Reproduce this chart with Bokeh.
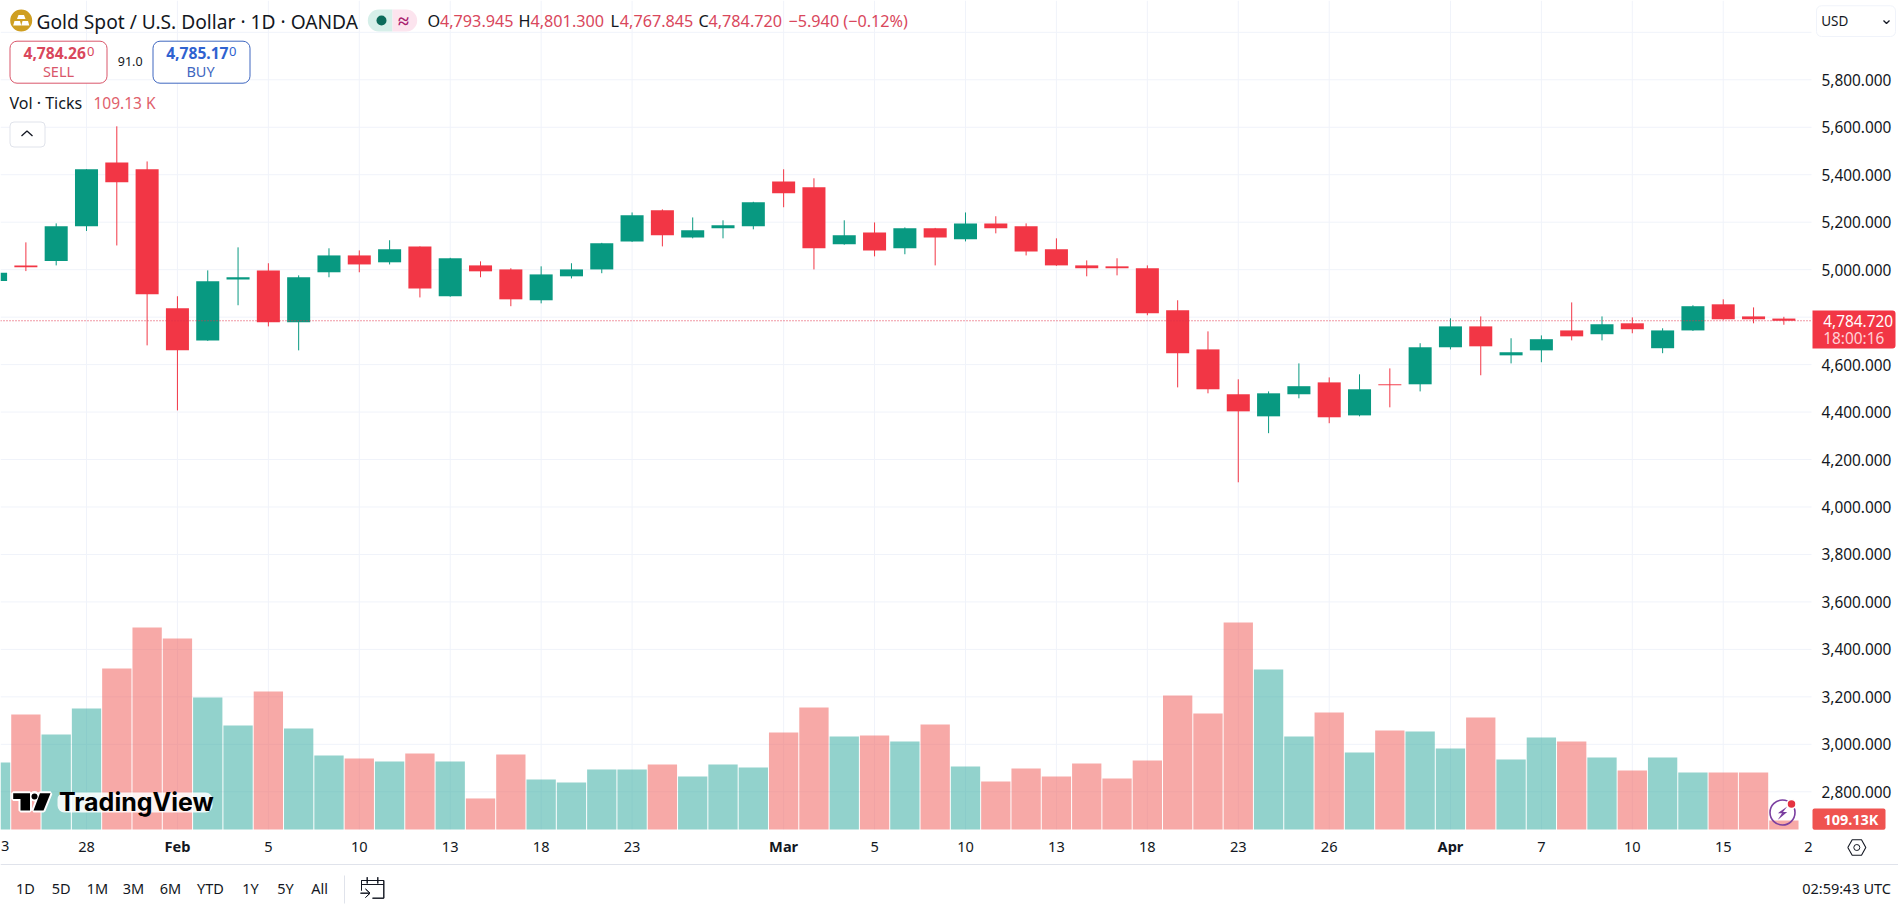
from bokeh.plotting import figure
from bokeh.models import (Range1d, FixedTicker, NumeralTickFormatter, Label,
                          BoxAnnotation, PolyAnnotation, ColumnDataSource)
from bokeh.embed import file_html
from bokeh.resources import INLINE

# ---------- data ----------
first_index = -1
opens = [4952,5018,5037,5183,5452,5423,4837,4702,4959,4997,4778,4989,5060,5031,5098,4888,5018,5001,4871,4972,5001,
         5119,5250,5136,5174,5183,5372,5347,5107,5157,5090,5174,5128,5195,5183,5086,5018,5014,5006,4829,4664,4475,
         4382,4475,4525,4386,4517,4517,4673,4761,4639,4660,4744,4728,4774,4669,4744,4854,4803,4793.945]
closes = [4987,5010,5183,5423,5368,4896,4660,4951,4968,4778,4968,5060,5022,5086,4921,5048,4993,4875,4980,5001,5111,
          5229,5145,5166,5187,5284,5322,5090,5145,5081,5174,5136,5195,5174,5077,5018,5006,5006,4816,4648,4496,4403,
          4479,4509,4378,4496,4513,4673,4761,4677,4652,4707,4719,4770,4749,4744,4846,4791,4791,4784.72]
highs = [4990,5115,5195,5423,5604,5456,4888,4997,5094,5027,4976,5090,5081,5124,5098,5050,5035,5006,5014,5027,5113,
         5241,5254,5220,5208,5286,5423,5385,5208,5199,5178,5176,5241,5225,5195,5132,5039,5048,5018,4871,4740,4538,
         4487,4605,4546,4559,4584,4690,4795,4803,4711,4723,4862,4803,4799,4753,4850,4875,4841,4801.3]
lows = [4950,4994,5018,5163,5102,4681,4407,4700,4850,4761,4660,4968,4989,5022,4883,4886,4968,4846,4858,4963,4985,
        5117,5098,5132,5132,5170,5263,5001,5105,5056,5065,5018,5119,5153,5060,5016,4972,4976,4808,4504,4479,4104,
        4311,4458,4353,4382,4420,4487,4664,4555,4605,4610,4702,4702,4732,4648,4742,4789,4774,4767.845]
volumes_k = [812,1394,1151,1467,1951,2448,2315,1600,1260,1673,1224,897,861,824,921,824,376,909,606,570,727,727,788,
             642,788,751,1176,1479,1127,1139,1067,1273,764,582,739,642,800,618,836,1624,1406,2509,1939,1127,1418,933,
             1200,1188,982,1357,848,1115,1067,873,715,873,691,691,691,109.13]
day_ticks = [2, 8, 11, 14, 17, 20, 28, 31, 34, 37, 40, 43, 50, 53, 56, 58.81]
day_labels = ["28", "5", "10", "13", "18", "23", "5", "10", "13", "18", "23", "26", "7", "10", "15", "2"]
month_ticks = [5, 25, 47]
month_labels = ["Feb", "Mar", "Apr"]
price_ticks = [2800, 3000, 3200, 3400, 3600, 3800, 4000, 4200, 4400, 4600, 4800, 5000, 5200, 5400, 5600, 5800, 6000]
range_buttons = ["1D", "5D", "1M", "3M", "6M", "YTD", "1Y", "5Y", "All"]

# ---------- geometry of the reference (page pixels) ----------
X0, DX = 25.38, 30.31          # page x of bar 0, px per bar
PY, PK = 79.3, 0.23733         # page y of 5800, px per price unit
PANE_R, PANE_B = 1811, 829
W, H = 1898, 911
FONT = "Noto Sans"
INK = "#131722"
RED = "#f23645"
GREEN = "#089981"
GRID = "#f0f3fa"
LVL = "annotation"


def X(px):
    return (px - X0) / DX


def Y(py):
    return 5800 - (py - PY) / PK


p = figure(width=W, height=H, output_backend="svg", toolbar_location=None,
           x_range=Range1d(X(0), X(W)), y_range=Range1d(Y(H), Y(0)),
           y_axis_location="right", background_fill_color="white", border_fill_color="white",
           min_border=0, outline_line_color=None, tools="")
p.extra_y_ranges = {"vol": Range1d((PANE_B - H) * 12.12, PANE_B * 12.12)}

# axes: fixed inside the full-page frame, so chrome around them is not clipped
xa = p.xaxis[0]
xa.ticker = FixedTicker(ticks=day_ticks)
xa.major_label_overrides = dict(zip(day_ticks, day_labels))
xa.fixed_location = Y(PANE_B)
ya = p.yaxis[0]
ya.ticker = FixedTicker(ticks=price_ticks)
ya.formatter = NumeralTickFormatter(format="0,0.000")
ya.major_label_overrides = {6000: ""}
ya.fixed_location = X(PANE_R)
for a in (xa, ya):
    a.axis_line_color = None
    a.major_tick_line_color = None
    a.minor_tick_line_color = None
    a.major_label_text_font = FONT
    a.major_label_text_color = INK
xa.major_label_text_font_size = "14.6px"
ya.major_label_text_font_size = "15.4px"
xa.major_label_standoff = 6
ya.major_label_standoff = 4
p.grid.grid_line_color = None

# pane grid, limited to the pane
grid_x = day_ticks[:-1] + month_ticks
p.segment(x0=grid_x, x1=grid_x, y0=[Y(PANE_B)] * len(grid_x), y1=[Y(0)] * len(grid_x), line_color=GRID, line_width=1)
p.segment(x0=[X(0)] * len(price_ticks), x1=[X(PANE_R)] * len(price_ticks), y0=price_ticks, y1=price_ticks,
          line_color=GRID, line_width=1)

# data
idx = [first_index + i for i in range(len(opens))]
cols = [GREEN if c >= o else RED for o, c in zip(opens, closes)]
vcols = ["#26a69a" if c >= o else "#ef5350" for o, c in zip(opens, closes)]
src = ColumnDataSource(dict(i=idx, o=opens, c=closes, h=highs, l=lows, v=volumes_k, col=cols, vcol=vcols))
p.vbar(x="i", top="v", bottom=0, width=0.967, fill_color="vcol", fill_alpha=0.5, line_color=None,
       source=src, y_range_name="vol")
p.segment(x0="i", x1="i", y0="l", y1="h", line_color="col", line_width=1, source=src)
p.vbar(x="i", top="o", bottom="c", width=0.76, fill_color="col", line_color=None, source=src)
p.segment(x0=[X(0)], x1=[X(PANE_R)], y0=[closes[-1]], y1=[closes[-1]], line_color="#e0304a", line_dash="1 2",
          line_width=1)


# ---------- chrome ----------
def box(l, t, r, b, fill="white", line=None, radius=0, lw=1, alpha=1):
    p.add_layout(BoxAnnotation(left=X(l), right=X(r), top=Y(t), bottom=Y(b), fill_color=fill, fill_alpha=alpha,
                               line_color=line, line_alpha=1, line_width=lw, border_radius=radius, level=LVL))


def poly(pts, fill=None, line=None, lw=1):
    p.add_layout(PolyAnnotation(xs=[X(a) for a, _ in pts], ys=[Y(b) for _, b in pts],
                                fill_color=fill or "white", fill_alpha=1 if fill else 0,
                                line_color=line, line_alpha=1, line_width=lw, level=LVL))


def stroke(pts, line=INK, lw=1):
    poly(list(pts) + list(reversed(pts)), None, line, lw)


def txt(px, py, s, size, color=INK, align="left", style="normal", font=FONT):
    p.add_layout(Label(x=X(px), y=Y(py), text=s, text_font=font, text_font_size=f"{size}px", text_color=color,
                       text_align=align, text_baseline="middle", text_font_style=style, level=LVL))


# month labels on the time axis, and the partial day at the left edge
for t, s in zip(month_ticks, month_labels):
    txt(X0 + DX * t, 845.5, s, 14.6, INK, "center", "bold")
txt(0.5, 845.5, "3", 14.6)

# rules
box(0, 863.5, W, 864.5, "#e0e3eb")
box(343.5, 875, 344.5, 903, "#e0e3eb")

# header
box(9.7, 9, 31.7, 31, "#cf9f22", None, 11)
poly([(18, 14.5), (23.5, 14.5), (25, 18.5), (16.5, 18.5)], "white")
poly([(14, 20.5), (19.5, 20.5), (20.8, 25), (12.7, 25)], "white")
poly([(22, 20.5), (27.5, 20.5), (28.8, 25), (20.8, 25)], "white")
txt(36, 20.5, "Gold Spot / U.S. Dollar · 1D · OANDA", 19.2)
box(367.3, 9, 392, 31, "#d6efe9", None, (11, 0, 0, 11))
box(392, 9, 416.7, 31, "#fce4ee", None, (0, 11, 11, 0))
box(376, 15, 386, 25, "#0b6b5a", None, 5)
txt(403, 20, "≈", 20, "#a8206e", "center", "bold")

HRED = "#d9475c"
HS = 16.2
txt(427, 20.5, "O", HS)
txt(439.5, 20.5, "4,793.945", HS, HRED)
txt(518, 20.5, "H", HS)
txt(530, 20.5, "4,801.300", HS, HRED)
txt(610, 20.5, "L", HS)
txt(619.3, 20.5, "4,767.845", HS, HRED)
txt(698, 20.5, "C", HS)
txt(708, 20.5, "4,784.720", HS, HRED)
txt(788, 20.5, "−5.940 (−0.12%)", HS, HRED)

# sell / buy
box(9.5, 40.7, 106.5, 82.7, "white", "#d9566a", 7)
txt(23, 52.7, "4,784.26", 15.6, "#d9475c", "left", "bold")
txt(86.5, 51, "0", 13, "#d9475c")
txt(58, 70, "SELL", 14.5, "#d9566a", "center")
txt(129.7, 60.7, "91.0", 12.5, INK, "center")
box(152.5, 40.7, 249.5, 82.7, "white", "#3f67c0", 7)
txt(165.7, 52.7, "4,785.17", 15.6, "#2f62d0", "left", "bold")
txt(228.5, 51, "0", 13, "#2f62d0")
txt(200, 70, "BUY", 14.5, "#3f67c0", "center")

# volume legend
txt(9, 102.7, "Vol · Ticks", 16)
txt(93, 102.7, "109.13 K", 15.5, "#e0606b")
box(9.5, 121.5, 44.5, 146.5, "white", "#e0e3eb", 4)
stroke([(21, 135.5), (26.5, 130.5), (32, 135.5)], INK, 1.3)

# USD box
box(1816, 5.3, 1895, 36, "white", GRID, 5)
txt(1820.7, 20.5, "USD", 13.5)
stroke([(1883, 20), (1886, 23), (1889, 20)], INK, 1.3)

# last price label
box(1812, 310, 1895, 348, RED, None, (0, 3, 3, 0))
txt(1822.7, 320, "4,784.720", 15.4, "white")
txt(1822.7, 337.7, "18:00:16", 15.4, "#ffd1d6")

# volume label
box(1812, 808, 1885, 829.3, "#ef5350", None, 2)
txt(1823, 818.7, "109.13K", 14.4, "white", "left", "bold")

# lightning badge
box(1769.5, 799.5, 1794.5, 824.5, "white", "#7b3fa0", 13, 1.6, 0)
poly([(1786.7, 806), (1777.3, 812.7), (1781.5, 812.7), (1777.3, 819.3), (1786.7, 811.5), (1782.5, 811.5)], "#7b3fa0")
box(1786.5, 799, 1795.5, 808, "#e53341", "white", 5, 1.5)

# settings hexagon
stroke([(1847.3, 847), (1851.7, 839.3), (1861, 839.3), (1865.3, 847), (1861, 854.7), (1851.7, 854.7), (1847.3, 847)], INK, 1.1)
box(1853.3, 844, 1859.3, 850, "white", INK, 3, 1, 0)

# watermark
TV_PARTS = [
    [(12.7, 792.7), (29.5, 792.7), (29.5, 810), (20, 810), (20, 798.5), (12.7, 798.5)],
    [(39.5, 792.7), (50, 792.7), (43, 810), (33, 810)],
]
for part in TV_PARTS:
    poly(part + [part[0]], "white", "white", 4)
box(29, 790.5, 39, 801, "white", None, 5)
box(57, 792, 212, 812, "white", None, 7, 1, 0.85)
for part in TV_PARTS:
    poly(part, "#000000")
box(31, 793, 37, 799, "#000000", None, 3)
txt(58.5, 801, "TradingView", 25, "#000000", "left", "bold", "Inter")

# bottom toolbar
for cx, s in zip([25, 60.6, 97, 133, 170, 210, 250, 285, 319], range_buttons):
    txt(cx, 887.5, s, 14.5, INK, "center")
txt(1890.5, 887.5, "02:59:43 UTC", 14.5, INK, "right")
stroke([(361, 890), (361, 880), (383.3, 880), (383.3, 897.7), (372, 897.7)], INK, 1)
stroke([(361, 884), (383.3, 884)], INK, 1)
stroke([(366.7, 876.7), (366.7, 883)], INK, 1)
stroke([(377.3, 876.7), (377.3, 883)], INK, 1)
stroke([(360, 892.7), (369.5, 892.7)], INK, 1)
stroke([(365, 888.5), (369.5, 892.7), (365, 897)], INK, 1)

open("out.html", "w").write(file_html(p, INLINE))
